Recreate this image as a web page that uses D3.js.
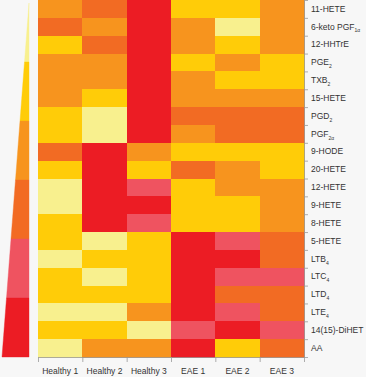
<!DOCTYPE html>
<html>
<head>
<meta charset="utf-8">
<script src="https://cdn.jsdelivr.net/npm/d3@7"></script>
<style>
  html, body { margin: 0; padding: 0; background: #f7f7f7; }
  svg { display: block; font-family: Lato, "Open Sans", sans-serif; }
  .axis text { fill: #333; font-size: 8.5px; }
  .axis path, .axis line { stroke: #999; stroke-width: 0.8; }
</style>
</head>
<body>
<div id="chart"></div>
<script>
const samples = ['Healthy 1', 'Healthy 2', 'Healthy 3', 'EAE 1', 'EAE 2', 'EAE 3'];

const lipidNames = ['11-HETE', '6-keto PGF', '12-HHTrE', 'PGE', 'TXB', '15-HETE', 'PGD', 'PGF',
  '9-HODE', '20-HETE', '12-HETE', '9-HETE', '8-HETE', '5-HETE', 'LTB', 'LTC', 'LTD', 'LTE',
  '14(15)-DiHET', 'AA'];
const lipidSubs = ['', '1α', '', '2', '2', '', '2', '2α', '', '', '', '', '', '', '4', '4', '4', '4', '', ''];

// colour level per lipid (row) and sample (column), 0 = lowest, 5 = highest
const levels = [
  [2, 3, 5, 1, 1, 2],
  [3, 2, 5, 2, 0, 2],
  [1, 3, 5, 2, 1, 2],
  [2, 2, 5, 1, 2, 1],
  [2, 2, 5, 2, 1, 1],
  [2, 1, 5, 2, 2, 2],
  [1, 0, 5, 3, 3, 3],
  [1, 0, 5, 2, 3, 3],
  [3, 5, 2, 1, 1, 1],
  [1, 5, 1, 3, 2, 1],
  [0, 5, 4, 1, 2, 2],
  [0, 5, 5, 1, 1, 2],
  [1, 5, 4, 1, 1, 2],
  [1, 0, 1, 5, 4, 3],
  [0, 1, 1, 5, 5, 3],
  [1, 0, 1, 5, 4, 4],
  [1, 1, 1, 5, 3, 3],
  [0, 0, 2, 5, 4, 3],
  [1, 1, 0, 4, 5, 4],
  [0, 2, 2, 5, 1, 3]
];

const levelSteps = [0, 1, 2, 3, 4, 5];
const palette = ['#f8f08e', '#ffcc08', '#f7941e', '#f26b23', '#ef5360', '#ec1c24'];

const width = 366, height = 377;
const mLeft = 38, mRight = 304, mTop = 0, mBottom = 357;

const svg = d3.select('#chart').append('svg')
    .attr('width', width)
    .attr('height', height);

const x = d3.scaleBand().domain(samples).range([mLeft, mRight]);
const y = d3.scaleBand().domain(d3.range(lipidNames.length)).range([mTop, mBottom]);
const color = d3.scaleOrdinal().domain(levelSteps).range(palette);

// cells
const cells = [];
levels.forEach((row, i) => row.forEach((v, j) => cells.push({row: i, col: samples[j], v})));

svg.append('g')
  .selectAll('rect')
  .data(cells)
  .enter()
  .append('rect')
  .attr('x', d => x(d.col))
  .attr('y', d => y(d.row))
  .attr('width', x.bandwidth() + 0.5)
  .attr('height', y.bandwidth() + 0.5)
  .attr('fill', d => color(d.v))
  .attr('shape-rendering', 'crispEdges');

// y axis: ticks at row boundaries, labels at row centres
const yEdge = d3.scaleLinear().domain([0, lipidNames.length]).range([mTop, mBottom]);
svg.append('g')
  .attr('class', 'axis')
  .attr('transform', `translate(${mRight},0)`)
  .call(d3.axisRight(yEdge).tickValues(d3.range(lipidNames.length + 1)).tickFormat('').tickSize(4).tickSizeOuter(0));

const yLab = svg.append('g')
  .attr('class', 'axis')
  .attr('transform', `translate(${mRight},0)`)
  .call(d3.axisRight(y).tickSize(0).tickPadding(7).tickFormat(''));
yLab.select('.domain').remove();
yLab.selectAll('.tick text').each(function (i) {
  const t = d3.select(this);
  t.append('tspan').text(lipidNames[i]);
  if (lipidSubs[i]) {
    t.append('tspan').text(lipidSubs[i]).attr('font-size', '5px').attr('dy', '3');
  }
});

// x axis
const xEdge = d3.scaleLinear().domain([0, samples.length]).range([mLeft, mRight]);
svg.append('g')
  .attr('class', 'axis')
  .attr('transform', `translate(0,${mBottom})`)
  .call(d3.axisBottom(xEdge).tickValues(d3.range(samples.length + 1)).tickFormat('').tickSize(5).tickSizeOuter(0));

const xLab = svg.append('g')
  .attr('class', 'axis')
  .attr('transform', `translate(0,${mBottom})`)
  .call(d3.axisBottom(x).tickSize(0).tickPadding(11));
xLab.select('.domain').remove();

// wedge legend
const ly = d3.scaleLinear().domain([0, levelSteps.length]).range([mBottom, 3]);
const lx = d3.scaleLinear().domain([0, levelSteps.length]).range([2, 29]);
const legendRight = 29;

svg.append('g')
  .selectAll('path')
  .data(levelSteps)
  .enter()
  .append('path')
  .attr('d', l => {
    const p0 = levelSteps.length - 1 - l, p1 = p0 + 1;
    return `M${lx(p0)},${ly(p0)}L${legendRight},${ly(p0)}L${legendRight},${ly(p1)}L${lx(p1)},${ly(p1)}Z`;
  })
  .attr('fill', l => color(l))
  .attr('stroke', l => color(l))
  .attr('stroke-width', 0.4);
</script>
</body>
</html>
